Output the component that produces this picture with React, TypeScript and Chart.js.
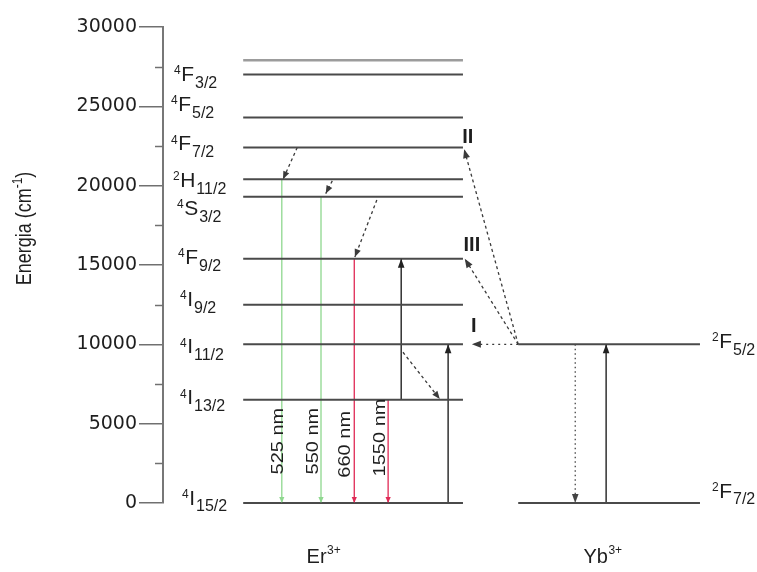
import { useEffect, useRef } from "react";
import { Chart, registerables } from "chart.js";

Chart.register(...registerables);

// ---------------- energy data (cm^-1) ----------------
// Er3+ manifolds, top to bottom
const erLevelEnergy = [27900, 27000, 24300, 22400, 20400, 19300, 15400, 12500, 10000, 6500, 0];
// term symbols of Er3+ (multiplicity, letter, J) and the energy where each name sits
const erTermSup = ["4", "4", "4", "2", "4", "4", "4", "4", "4", "4"];
const erTermLetter = ["F", "F", "F", "H", "S", "F", "I", "I", "I", "I"];
const erTermJ = ["3/2", "5/2", "7/2", "11/2", "3/2", "9/2", "9/2", "11/2", "13/2", "15/2"];
const erTermLabelEnergy = [27100, 25200, 22700, 20400, 18650, 15550, 12900, 9900, 6700, 380];

// Yb3+ manifolds
const ybLevelEnergy = [10000, 0];
const ybTermSup = ["2", "2"];
const ybTermLetter = ["F", "F"];
const ybTermJ = ["5/2", "7/2"];
const ybTermLabelEnergy = [10270, 820];

// radiative emissions of Er3+ (start level -> ground state)
const emissionLabel = ["525 nm", "550 nm", "660 nm", "1550 nm"];
const emissionFrom = [20400, 19300, 15400, 6500];
const emissionTo = [0, 0, 0, 0];
const emissionLabelEnergy = [3900, 3900, 3700, 4130];

// non-radiative relaxations (dashed)
const relaxFrom = [22400, 20300, 19100, 9500];
const relaxTo = [20400, 19500, 15500, 6550];

// energy transfer Yb -> Er (steps I, II, III)
const transferName = ["I", "II", "III"];
const transferFrom = [10000, 10000, 10000];
const transferTo = [10000, 22300, 15400];
const transferLabelEnergy = [11100, 23050, 16250];

// absorptions (solid up arrows): Er 4I13/2->4F9/2, Er 4I15/2->4I11/2, Yb 2F7/2->2F5/2
const absorbFrom = [6500, 0, 0];
const absorbTo = [15400, 10000, 10000];

// Yb3+ 2F5/2 -> 2F7/2 decay
const ybDecayFrom = 10000;
const ybDecayTo = 0;

// axis ticks
const energyTicks = [0, 5000, 10000, 15000, 20000, 25000, 30000];
const energyMinorTicks = [2500, 7500, 12500, 17500, 22500, 27500];

// ---------------- layout (horizontal units 0..100) ----------------
const ER_X: [number, number] = [13.5, 50.5];
const YB_X: [number, number] = [59.8, 90.4];
const EMISSION_X = [20.0, 26.6, 32.2, 37.9];
const EMISSION_TEXT_X = [19.5, 25.4, 30.8, 36.7];
const RELAX_X: [number, number][] = [
  [22.6, 20.2],
  [28.5, 27.4],
  [36.0, 32.3],
  [40.4, 46.6],
];
const TRANSFER_X: [number, number][] = [
  [59.8, 52.0],
  [59.8, 50.7],
  [59.8, 50.8],
];
const TRANSFER_TEXT_X = [52.3, 51.3, 52.0];
const ABSORB_X = [40.1, 48.0, 74.6];
const YB_DECAY_X = 69.4;
const TERM_INDENT = [11, 8, 8, 10, 14, 15, 17, 17, 17, 19];
const ION_X = [27.0, 74.0];

const SANS = '"Liberation Sans", Arial, Helvetica, sans-serif';
const INK = "#1e1e1e";

const seg = (x0: number, y0: number, x1: number, y1: number) => [
  { x: x0, y: y0 },
  { x: x1, y: y1 },
];

function lineSet(data: any[], extra: any) {
  return {
    data,
    showLine: true,
    pointRadius: 0,
    pointHoverRadius: 0,
    fill: false,
    tension: 0,
    clip: false,
    borderWidth: 2,
    borderColor: "#4d4d4d",
    ...extra,
  };
}

function buildDatasets() {
  const ds: any[] = [];
  erLevelEnergy.forEach((e, i) =>
    ds.push(
      lineSet(seg(ER_X[0], e, ER_X[1], e), {
        borderColor: i === 0 ? "#9c9c9c" : "#4a4a4a",
        borderWidth: i === 0 ? 2.6 : 2,
      })
    )
  );
  ybLevelEnergy.forEach((e) => ds.push(lineSet(seg(YB_X[0], e, YB_X[1], e), { borderColor: "#4a4a4a" })));

  emissionFrom.forEach((e, i) => {
    const green = i < 2;
    ds.push(
      lineSet(seg(EMISSION_X[i], e, EMISSION_X[i], emissionTo[i]), {
        borderColor: green ? "#8fd88f" : "#e02a55",
        borderWidth: 1.3,
        arrow: true,
        arrowLen: 6,
        arrowHalf: 2.6,
      })
    );
  });

  relaxFrom.forEach((e, i) =>
    ds.push(
      lineSet(seg(RELAX_X[i][0], e, RELAX_X[i][1], relaxTo[i]), {
        borderColor: "#3a3a3a",
        borderWidth: 1.3,
        borderDash: [3, 3],
        arrow: true,
        arrowLen: 8,
        arrowHalf: 3.2,
      })
    )
  );

  transferFrom.forEach((e, i) =>
    ds.push(
      lineSet(seg(TRANSFER_X[i][0], e, TRANSFER_X[i][1], transferTo[i]), {
        borderColor: "#3a3a3a",
        borderWidth: 1.3,
        borderDash: i === 0 ? [2, 4] : [3, 3],
        arrow: true,
        arrowLen: 9,
        arrowHalf: 3.5,
      })
    )
  );

  absorbFrom.forEach((e, i) =>
    ds.push(
      lineSet(seg(ABSORB_X[i], e, ABSORB_X[i], absorbTo[i]), {
        borderColor: "#222",
        borderWidth: 1.4,
        arrow: true,
        arrowLen: 9,
        arrowHalf: 3.3,
      })
    )
  );

  ds.push(
    lineSet(seg(YB_DECAY_X, ybDecayFrom, YB_DECAY_X, ybDecayTo), {
      borderColor: "#444",
      borderWidth: 1.3,
      borderDash: [1.5, 3],
      arrow: true,
      arrowLen: 9,
      arrowHalf: 3.3,
    })
  );
  return ds;
}

// filled arrowheads at the end point of flagged datasets
const arrowHeads = {
  id: "arrowHeads",
  afterDatasetsDraw(chart: any) {
    const ctx = chart.ctx;
    chart.data.datasets.forEach((ds: any, i: number) => {
      if (!ds.arrow) return;
      const pts = chart.getDatasetMeta(i).data;
      const a = pts[pts.length - 2];
      const b = pts[pts.length - 1];
      const ang = Math.atan2(b.y - a.y, b.x - a.x);
      const len = ds.arrowLen;
      const hw = ds.arrowHalf;
      ctx.save();
      ctx.fillStyle = ds.borderColor;
      ctx.translate(b.x, b.y);
      ctx.rotate(ang);
      ctx.beginPath();
      ctx.moveTo(0, 0);
      ctx.lineTo(-len, -hw);
      ctx.lineTo(-len, hw);
      ctx.closePath();
      ctx.fill();
      ctx.restore();
    });
  },
};

function drawTerm(ctx: CanvasRenderingContext2D, x: number, yc: number, sup: string, letter: string, j: string, size: number) {
  ctx.textAlign = "left";
  ctx.textBaseline = "alphabetic";
  const base = yc + size * 0.36;
  ctx.font = `${Math.round(size * 0.58)}px ${SANS}`;
  ctx.fillText(sup, x, yc + 1);
  let cx = x + ctx.measureText(sup).width + 0.5;
  ctx.font = `${size}px ${SANS}`;
  ctx.fillText(letter, cx, base);
  cx += ctx.measureText(letter).width + 1;
  ctx.font = `${Math.round(size * 0.75)}px ${SANS}`;
  ctx.fillText(j, cx, base + size * 0.33);
}

function drawIon(ctx: CanvasRenderingContext2D, xc: number, base: number, main: string, sup: string) {
  ctx.textBaseline = "alphabetic";
  ctx.textAlign = "left";
  ctx.font = `20px ${SANS}`;
  const w1 = ctx.measureText(main).width;
  ctx.font = `12px ${SANS}`;
  const w2 = ctx.measureText(sup).width;
  const x0 = xc - (w1 + w2) / 2;
  ctx.font = `20px ${SANS}`;
  ctx.fillText(main, x0, base);
  ctx.font = `12px ${SANS}`;
  ctx.fillText(sup, x0 + w1 + 0.5, base - 9);
}

// all text annotations and the minor axis ticks
const annotations = {
  id: "annotations",
  afterDraw(chart: any) {
    const ctx: CanvasRenderingContext2D = chart.ctx;
    const xs = chart.scales.x;
    const ys = chart.scales.y;
    const area = chart.chartArea;
    ctx.save();

    // minor ticks on the energy axis
    ctx.strokeStyle = "#707070";
    ctx.lineWidth = 1.5;
    energyMinorTicks.forEach((e) => {
      const y = Math.round(ys.getPixelForValue(e)) + 0.5;
      ctx.beginPath();
      ctx.moveTo(area.left - 8, y);
      ctx.lineTo(area.left, y);
      ctx.stroke();
    });

    ctx.fillStyle = INK;

    // Er3+ term names
    erTermLetter.forEach((l, i) => {
      drawTerm(ctx, area.left + TERM_INDENT[i], ys.getPixelForValue(erTermLabelEnergy[i]), erTermSup[i], l, erTermJ[i], 21);
    });
    // Yb3+ term names
    ybTermLetter.forEach((l, i) => {
      drawTerm(ctx, xs.getPixelForValue(YB_X[1]) + 12, ys.getPixelForValue(ybTermLabelEnergy[i]), ybTermSup[i], l, ybTermJ[i], 21);
    });

    // emission wavelengths, written upward
    emissionLabel.forEach((t, i) => {
      ctx.save();
      ctx.translate(xs.getPixelForValue(EMISSION_TEXT_X[i]), ys.getPixelForValue(emissionLabelEnergy[i]));
      ctx.rotate(-Math.PI / 2);
      ctx.scale(1.25, 1);
      ctx.font = `16px ${SANS}`;
      ctx.textAlign = "center";
      ctx.textBaseline = "middle";
      ctx.fillText(t, 0, 0);
      ctx.restore();
    });

    // energy transfer step numbers
    transferName.forEach((t, i) => {
      ctx.font = `bold 20px ${SANS}`;
      ctx.textAlign = "center";
      ctx.textBaseline = "middle";
      ctx.fillText(t, xs.getPixelForValue(TRANSFER_TEXT_X[i]), ys.getPixelForValue(transferLabelEnergy[i]));
    });

    // ion names under each ladder
    drawIon(ctx, xs.getPixelForValue(ION_X[0]), area.bottom + 60, "Er", "3+");
    drawIon(ctx, xs.getPixelForValue(ION_X[1]), area.bottom + 60, "Yb", "3+");

    // axis title
    ctx.save();
    ctx.translate(31, ys.getPixelForValue(17300));
    ctx.rotate(-Math.PI / 2);
    ctx.scale(1, 1.25);
    ctx.textAlign = "left";
    ctx.textBaseline = "alphabetic";
    ctx.font = `18px ${SANS}`;
    const a = "Energia (cm";
    const c = ")";
    const wa = ctx.measureText(a).width;
    const wc = ctx.measureText(c).width;
    ctx.font = `12px ${SANS}`;
    const b = "-1";
    const wb = ctx.measureText(b).width;
    let x = -(wa + wb + wc) / 2;
    ctx.font = `18px ${SANS}`;
    ctx.fillText(a, x, 0);
    x += wa;
    ctx.font = `12px ${SANS}`;
    ctx.fillText(b, x, -7);
    x += wb;
    ctx.font = `18px ${SANS}`;
    ctx.fillText(c, x, 0);
    ctx.restore();

    ctx.restore();
  },
};

export default function App() {
  const canvasRef = useRef<HTMLCanvasElement | null>(null);

  useEffect(() => {
    const canvas = canvasRef.current;
    if (!canvas) return;
    const chart = new Chart(canvas, {
      type: "scatter",
      data: { datasets: buildDatasets() },
      options: {
        responsive: false,
        animation: false,
        events: [],
        layout: { padding: { top: 27, bottom: 69, left: 0, right: 0 } },
        plugins: { legend: { display: false }, tooltip: { enabled: false } },
        scales: {
          x: { type: "linear", min: 0, max: 100, display: false },
          y: {
            type: "linear",
            min: 0,
            max: 30000,
            afterBuildTicks: (s: any) => {
              s.ticks = energyTicks.map((v) => ({ value: v }));
            },
            afterFit: (s: any) => {
              s.width = 163;
            },
            ticks: {
              color: INK,
              padding: 2,
              font: { family: '"DejaVu Sans", sans-serif', size: 19 },
              callback: (v: any) => String(v),
            },
            grid: {
              drawOnChartArea: false,
              drawTicks: true,
              tickLength: 24,
              color: "#707070",
              lineWidth: 1.5,
            },
            border: { display: true, color: "#777", width: 2 },
          },
        },
      } as any,
      plugins: [arrowHeads, annotations],
    });
    return () => chart.destroy();
  }, []);

  return (
    <div style={{ position: "absolute", left: 0, top: 0, width: 757, height: 572, background: "#fff" }}>
      <canvas ref={canvasRef} width={757} height={572} style={{ display: "block" }} />
    </div>
  );
}
